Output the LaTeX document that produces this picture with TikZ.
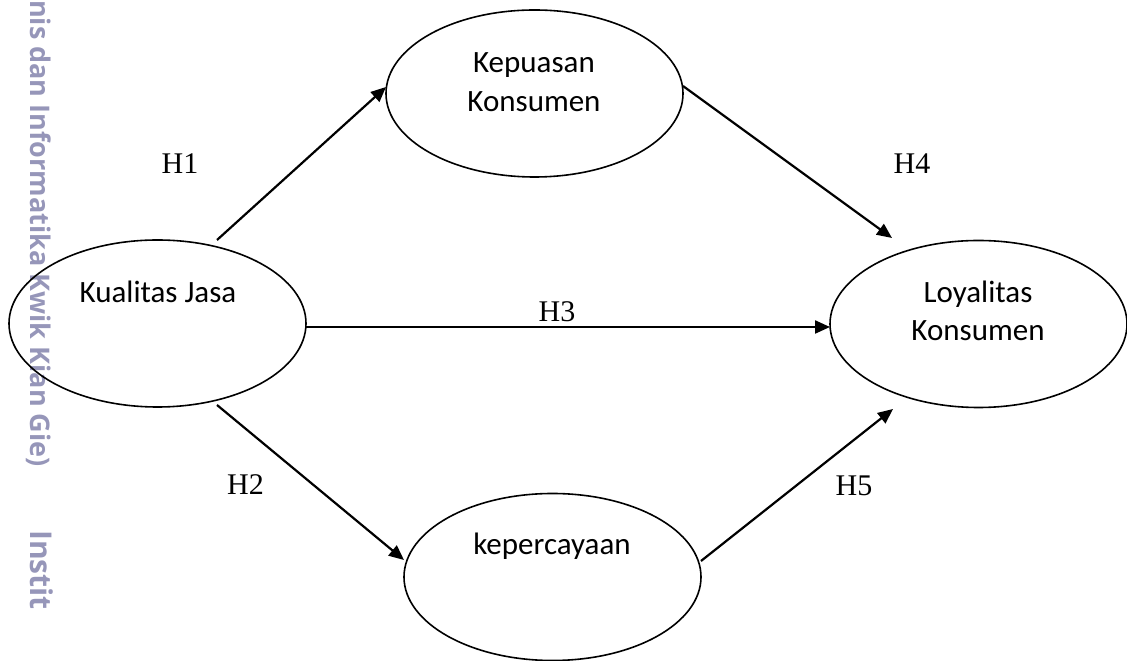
\documentclass[tikz,border=0pt]{standalone}
\usepackage{fontspec}
\setmainfont{Liberation Serif}
\newfontfamily\calib{Carlito}
\newfontfamily\wmfont{Open Sans}
\usetikzlibrary{shapes.geometric,arrows.meta,calc}
\definecolor{wm}{RGB}{150,150,185}
\tikzset{
  latent/.style={draw=black, line width=1.6pt, ellipse, minimum width=297pt, minimum height=167pt, inner sep=0pt},
  ltext/.style={font=\calib\fontsize{31}{38}\selectfont, anchor=base, inner sep=0pt},
  hlabel/.style={font=\fontsize{30}{36}\selectfont, anchor=base, inner sep=0pt},
  path/.style={line width=2.2pt, -{Triangle[length=15pt,width=13pt]}},
  wmark/.style={text=wm, rotate=-90, anchor=base west, inner sep=0pt}
}
\begin{document}
\begin{tikzpicture}[x=1pt,y=1pt]
\useasboundingbox (0,0) rectangle (1127,661);
% watermark
\node[wmark, font=\wmfont\bfseries\fontsize{27}{30}\selectfont] (wm1) at (31,661) {nis dan Informatika Kwik Kian Gie)};
\node[wmark, font=\wmfont\bfseries\fontsize{30}{34}\selectfont] (wm2) at (30,131) {Instit};
% ellipses
\node[latent] (kual) at (157.5,337.5) {};
\node[latent] (kep) at (534.5,567.5) {};
\node[latent] (loy) at (978.5,337) {};
\node[latent] (perc) at (552.5,84) {};
% texts
\node[ltext] (kualT) at (158,358) {Kualitas Jasa};
\node[ltext] (kepT1) at (534,588) {Kepuasan};
\node[ltext] (kepT2) at (534,549) {Konsumen};
\node[ltext] (loyT1) at (978,358) {Loyalitas};
\node[ltext] (loyT2) at (978,320) {Konsumen};
\node[ltext] (percT) at (552,106) {kepercayaan};
% arrows
\draw[path] ($(kual.center)+(59.5,83.5)$) -- ($(kep.center)+(-148.5,6.5)$);
\draw[path] ($(kep.center)+(148.5,7.5)$) -- ($(loy.center)+(-86.5,86)$);
\draw[path] ($(kual.center)+(148.5,-3.5)$) -- ($(loy.center)+(-148.5,-3)$);
\draw[path] ($(kual.center)+(59.5,-81.5)$) -- ($(perc.center)+(-148.5,17)$);
\draw[path] ($(perc.center)+(148.5,16)$) -- ($(loy.center)+(-85.5,-85)$);
% labels
\node[hlabel] (h1) at (180,487) {H1};
\node[hlabel] (h4) at (912,487) {H4};
\node[hlabel] (h3) at (557,339) {H3};
\node[hlabel] (h2) at (245.5,166) {H2};
\node[hlabel] (h5) at (854,165) {H5};
\end{tikzpicture}
\end{document}
